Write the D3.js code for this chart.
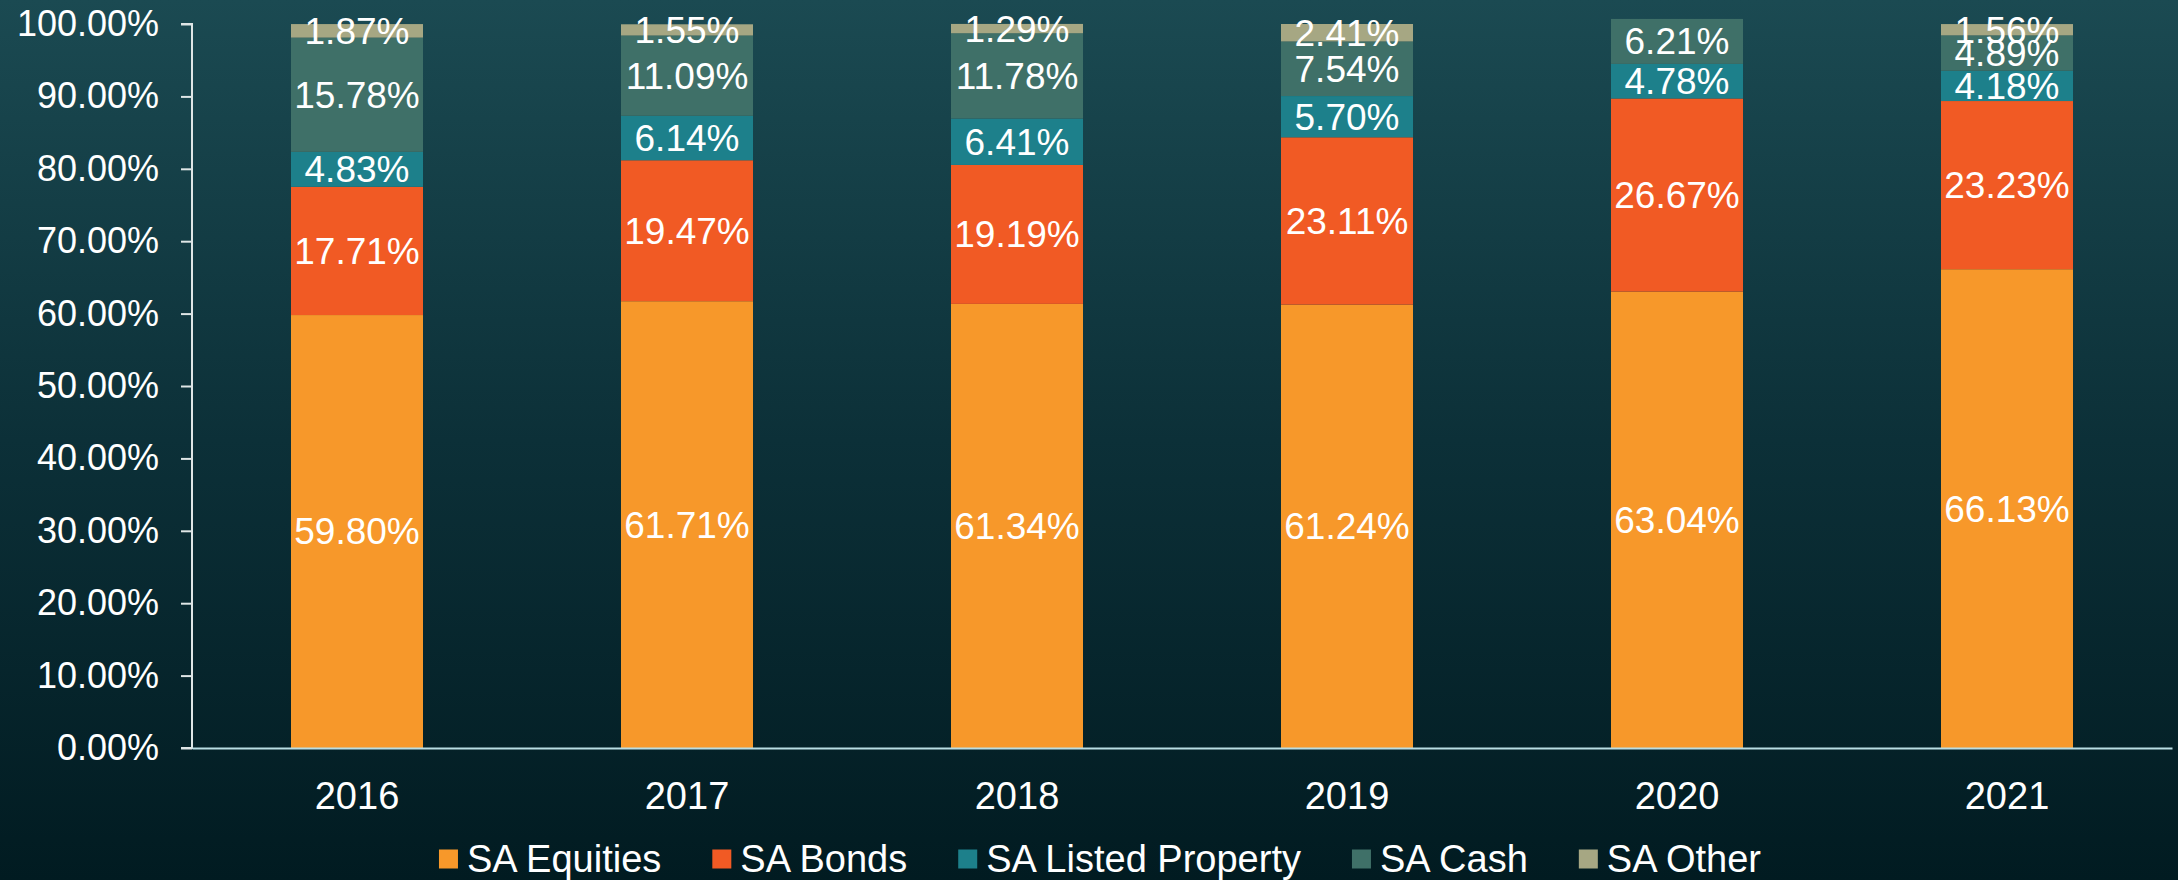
<!DOCTYPE html>
<html lang="en">
<head>
    <meta charset="UTF-8">
    <title>SA asset allocation</title>
    <script src="https://d3js.org/d3.v7.min.js"></script>
    <style>
        body { margin: 0; }
        text { font-family: "Liberation Sans", Arial, sans-serif; fill: #ffffff; }
    </style>
</head>
<body>
    <script>
        var years = ["2016", "2017", "2018", "2019", "2020", "2021"];
        var seriesNames = ["SA Equities", "SA Bonds", "SA Listed Property", "SA Cash", "SA Other"];
        var equities = [59.80, 61.71, 61.34, 61.24, 63.04, 66.13];
        var bonds = [17.71, 19.47, 19.19, 23.11, 26.67, 23.23];
        var listedProperty = [4.83, 6.14, 6.41, 5.70, 4.78, 4.18];
        var cash = [15.78, 11.09, 11.78, 7.54, 6.21, 4.89];
        var other = [1.87, 1.55, 1.29, 2.41, 0, 1.56];
        var yTicks = [0, 10, 20, 30, 40, 50, 60, 70, 80, 90, 100];
        var colors = ["#f7982a", "#f15a24", "#1d808b", "#3f7068", "#a6a783"];

        var width = 2178, height = 880;
        var margin = { left: 192, right: 6, top: 24, bottom: 132 };

        var svg = d3.select("body").append("svg")
            .attr("width", width)
            .attr("height", height);

        var grad = svg.append("defs").append("linearGradient")
            .attr("id", "bg").attr("x1", 0).attr("y1", 0).attr("x2", 0).attr("y2", 1);
        grad.append("stop").attr("offset", "0%").attr("stop-color", "#1b4a52");
        grad.append("stop").attr("offset", "50%").attr("stop-color", "#0c3038");
        grad.append("stop").attr("offset", "100%").attr("stop-color", "#011b21");
        svg.append("rect").attr("width", width).attr("height", height).attr("fill", "url(#bg)");

        // table built from the series arrays
        var rows = years.map(function (y, i) {
            return {
                year: y,
                "SA Equities": equities[i],
                "SA Bonds": bonds[i],
                "SA Listed Property": listedProperty[i],
                "SA Cash": cash[i],
                "SA Other": other[i]
            };
        });

        var x = d3.scaleBand()
            .domain(years)
            .range([margin.left, width - margin.right])
            .paddingInner(0.6)
            .paddingOuter(0.3);
        var y = d3.scaleLinear()
            .domain([0, 100])
            .range([height - margin.bottom, margin.top]);
        var color = d3.scaleOrdinal().domain(seriesNames).range(colors);

        var stacked = d3.stack().keys(seriesNames)(rows);

        var layers = svg.selectAll("g.layer")
            .data(stacked)
            .enter().append("g")
            .attr("class", "layer")
            .attr("fill", function (d) { return color(d.key); });
        layers.selectAll("rect")
            .data(function (d) { return d.filter(function (p) { return p[1] - p[0] > 0; }); })
            .enter().append("rect")
            .attr("x", function (d) { return x(d.data.year); })
            .attr("width", x.bandwidth())
            .attr("y", function (d) { return y(d[1]); })
            .attr("height", function (d) { return y(d[0]) - y(d[1]); });

        // segment labels
        stacked.forEach(function (layer) {
            svg.append("g").selectAll("text")
                .data(layer.filter(function (p) { return p[1] - p[0] > 0; }))
                .enter().append("text")
                .attr("x", function (d) { return x(d.data.year) + x.bandwidth() / 2; })
                .attr("y", function (d) { return (y(d[0]) + y(d[1])) / 2; })
                .attr("dy", "0.35em")
                .attr("text-anchor", "middle")
                .style("font-size", "37px")
                .text(function (d) { return d.data[layer.key].toFixed(2) + "%"; });
        });

        // y axis
        var yAxis = svg.append("g")
            .attr("transform", "translate(" + margin.left + ",0)")
            .call(d3.axisLeft(y).tickValues(yTicks).tickSize(11).tickPadding(22)
                .tickFormat(function (d) { return d.toFixed(2) + "%"; }));
        yAxis.select(".domain").attr("stroke", "#dfe6e6").attr("stroke-width", 2)
            .attr("d", "M-11," + y(100) + "H0V" + y(0) + "H-11");
        yAxis.selectAll(".tick line").attr("stroke", "#dfe6e6").attr("stroke-width", 2);
        yAxis.selectAll(".tick text").style("font-size", "36px").attr("fill", "#ffffff");

        // x axis
        var xAxis = svg.append("g")
            .attr("transform", "translate(0," + y(0) + ")")
            .call(d3.axisBottom(x).tickSize(0).tickPadding(34));
        xAxis.select(".domain").attr("stroke", "#b9dde3").attr("stroke-width", 2);
        xAxis.selectAll(".tick text").style("font-size", "38px").attr("fill", "#ffffff");

        // legend
        var legend = svg.append("g").attr("transform", "translate(0,859)");
        var sw = 19, gapText = 9, gapItem = 51;
        var items = legend.selectAll("g").data(seriesNames).enter().append("g");
        items.append("rect")
            .attr("y", -sw / 2).attr("width", sw).attr("height", sw)
            .attr("fill", function (d) { return color(d); });
        items.append("text")
            .attr("x", sw + gapText).attr("dy", "0.35em")
            .style("font-size", "38px")
            .text(function (d) { return d; });
        var pos = 0, offsets = [];
        items.each(function () {
            offsets.push(pos);
            pos += sw + gapText + d3.select(this).select("text").node().getComputedTextLength() + gapItem;
        });
        var total = pos - gapItem;
        var start = 1100 - total / 2;
        items.attr("transform", function (d, i) { return "translate(" + (start + offsets[i]) + ",0)"; });
    </script>
</body>
</html>
